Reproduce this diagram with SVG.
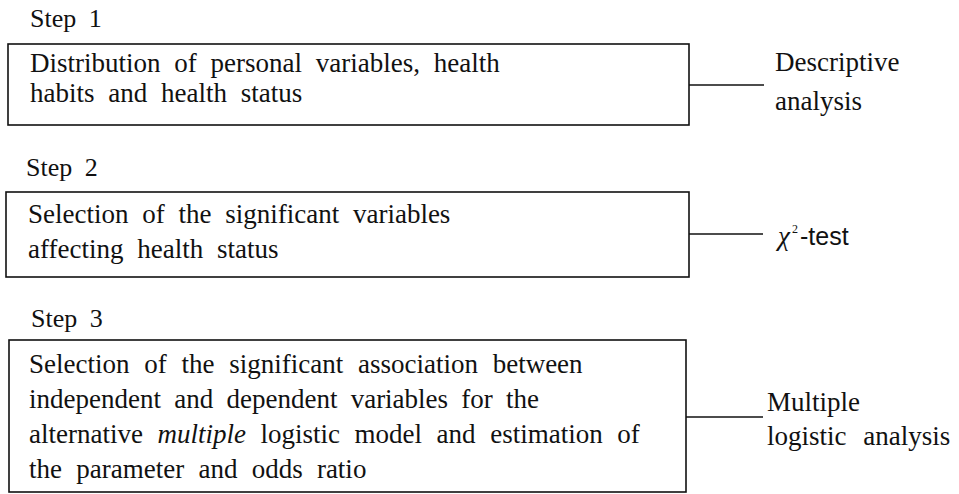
<svg xmlns="http://www.w3.org/2000/svg" width="959" height="494" viewBox="0 0 959 494">
<style>
.bg{fill:#fff}
.box{fill:none;stroke:#111;stroke-width:1.6}
.con{stroke:#111;stroke-width:1.4;fill:none}
.t{font-family:"Liberation Serif","Times New Roman",serif;font-size:27px;fill:#111;word-spacing:7px}
.s{font-family:"Liberation Serif","Times New Roman",serif;font-size:26px;fill:#111;word-spacing:6px}
.sans{font-family:"Liberation Sans",Arial,sans-serif;font-size:25px;fill:#111}
</style>
<rect class="bg" x="0" y="0" width="959" height="494"/>
<g id="step1">
<text class="s" x="30" y="27">Step 1</text>
<rect class="box" x="8" y="44" width="681" height="81"/>
<text class="t" x="30" y="72">Distribution of personal variables, health</text>
<text class="t" x="30" y="102">habits and health status</text>
</g>
<g id="label1">
<text class="t" x="775" y="71">Descriptive</text>
<text class="t" x="775" y="110">analysis</text>
</g>
<g id="step2">
<text class="s" x="26" y="176">Step 2</text>
<rect class="box" x="6" y="192" width="683" height="85"/>
<text class="t" x="28" y="223">Selection of the significant variables</text>
<text class="t" x="28" y="258">affecting health status</text>
</g>
<g id="label2">
<text class="t" x="778" y="245" font-style="italic">χ</text>
<text class="t" x="792" y="233" style="font-size:12px">2</text>
<text class="sans" x="800" y="245">-test</text>
</g>
<g id="step3">
<text class="s" x="31" y="327">Step 3</text>
<rect class="box" x="9" y="340" width="677" height="152"/>
<text class="t" x="29" y="373" style="word-spacing:8px">Selection of the significant association between</text>
<text class="t" x="29" y="408" style="word-spacing:6.5px">independent and dependent variables for the</text>
<text class="t" x="29" y="443" style="word-spacing:7.8px">alternative <tspan font-style="italic">multiple</tspan> logistic model and estimation of</text>
<text class="t" x="29" y="478" style="word-spacing:7.5px">the parameter and odds ratio</text>
</g>
<g id="label3">
<text class="t" x="767" y="411">Multiple</text>
<text class="t" x="767" y="445" style="word-spacing:10px">logistic analysis</text>
</g>
<g id="connectors">
<line class="con" x1="689" y1="85" x2="764" y2="85"/>
<line class="con" x1="689" y1="234" x2="763" y2="234"/>
<line class="con" x1="686" y1="417" x2="763" y2="417"/>
</g>
</svg>
